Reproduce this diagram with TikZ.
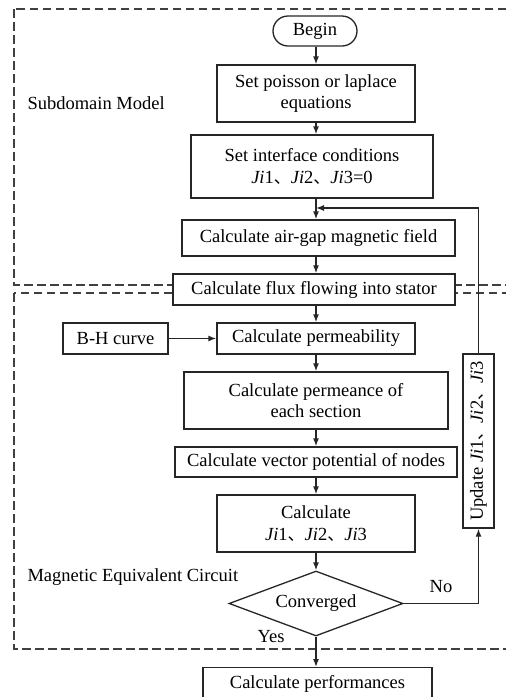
\documentclass[tikz,border=0pt]{standalone}
\usepackage{fontspec}
\setmainfont{Liberation Serif}
\newfontfamily\cjk{Noto Sans CJK SC}
\usetikzlibrary{shapes.geometric,arrows.meta}
\newcommand{\dun}{{\cjk\fontsize{17}{17}\selectfont 、}}
\newcommand{\Ji}[1]{\textit{Ji}#1}
\begin{document}
\begin{tikzpicture}[x=1pt,y=-1pt,
  font=\fontsize{18.5}{21.5}\selectfont,
  box/.style={draw=black!85, line width=1.3pt, inner sep=0pt, align=center},
  arr/.style={line width=1.3pt, draw=black!85, -{Latex[length=8pt,width=6pt]}},
  region/.style={dash pattern=on 8.5pt off 4.5pt, line width=1.2pt, draw=black!75}]
\useasboundingbox (0,0) rectangle (506,697);
\clip (0,0) rectangle (506,697);

% dashed regions
\draw[region] (14,9) rectangle (530,285);
\draw[region] (14,293) rectangle (530,649);
\node[anchor=west] (sdm) at (24,103) {Subdomain Model};
\node[anchor=west] (mec) at (24,577) {Magnetic Equivalent Circuit};

% main spine
\coordinate (sp) at (316,0);

\node[box, rounded corners=15pt, minimum width=84pt, minimum height=30pt] (begin) at (315,31) {Begin};
\node[box, minimum width=198pt, minimum height=57pt] (poisson) at (316,93.5) {Set poisson or laplace\\equations};
\node[box, minimum width=242pt, minimum height=63pt] (iface) at (312,166.5) {Set interface conditions\\\Ji{1}\dun\Ji{2}\dun\Ji{3}=0};
\node[box, minimum width=273pt, minimum height=36pt] (airgap) at (318.5,238) {Calculate air-gap magnetic field};
\node[box, minimum width=282pt, minimum height=31pt, fill=white] (flux) at (314,289.5) {Calculate flux flowing into stator};
\node[box, minimum width=105pt, minimum height=31pt] (bh) at (115.5,338.5) {B-H curve};
\node[box, minimum width=198pt, minimum height=31pt] (perm) at (316,338.5) {Calculate permeability};
\node[box, minimum width=264pt, minimum height=57pt] (permeance) at (316,400.5) {Calculate permeance of\\each section};
\node[box, minimum width=282pt, minimum height=30pt] (vecpot) at (316,462) {Calculate vector potential of nodes};
\node[box, minimum width=198pt, minimum height=57pt] (calcji) at (316,523.5) {Calculate\\\Ji{1}\dun\Ji{2}\dun\Ji{3}};
\node[box, diamond, shape aspect=2.7, minimum width=174pt, minimum height=65pt] (conv) at (316,603.5) {Converged};
\node[box, rotate=90, minimum width=174pt, minimum height=31pt] (update) at (478.5,441) {Update \Ji{1}\dun\Ji{2}\dun\Ji{3}};
\node[box, minimum width=229pt, minimum height=44pt, anchor=north] (perf) at (317.5,667) {};
\node[anchor=base] (perftxt) at (317.5,688) {Calculate performances};

\node (no) at (441,587) {No};
\node (yes) at (271,637) {Yes};

% connectors along the spine
\draw[arr] (begin.south -| sp) -- (poisson.north -| sp);
\draw[arr] (poisson.south -| sp) -- (iface.north -| sp);
\draw[arr] (iface.south -| sp) -- (airgap.north -| sp);
\draw[arr] (airgap.south -| sp) -- (flux.north -| sp);
\draw[arr] (flux.south -| sp) -- (perm.north -| sp);
\draw[arr] (bh.east) -- (perm.west);
\draw[arr] (perm.south -| sp) -- (permeance.north -| sp);
\draw[arr] (permeance.south -| sp) -- (vecpot.north -| sp);
\draw[arr] (vecpot.south -| sp) -- (calcji.north -| sp);
\draw[arr] (calcji.south -| sp) -- (conv.north);
\draw[arr] (conv.south) -- (perf.north -| conv.south);

% iteration loop
\coordinate (loop) at (316,208);
\draw[arr] (conv.east) -| (update.west);
\draw[arr] (update.east) |- (loop);
\end{tikzpicture}
\end{document}
